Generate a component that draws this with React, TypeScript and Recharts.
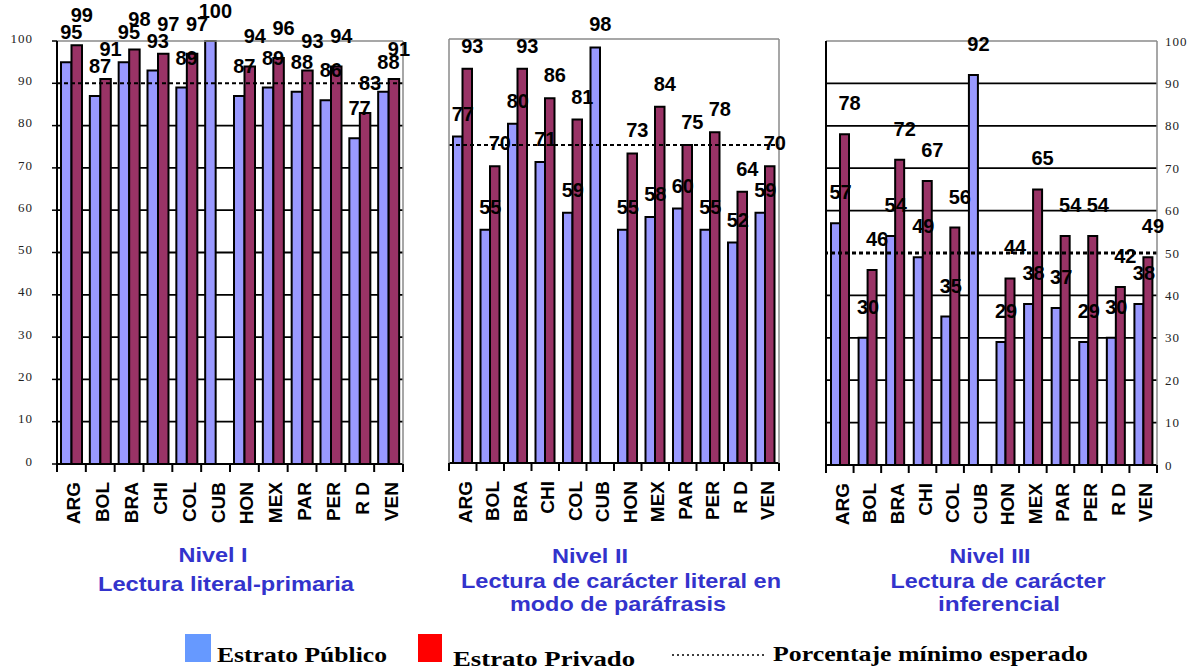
import React from "react";
import {
  Bar,
  BarChart,
  CartesianGrid,
  LabelList,
  ReferenceLine,
  XAxis,
  YAxis
} from "recharts";

const paises = ["ARG", "BOL", "BRA", "CHI", "COL", "CUB", "HON", "MEX", "PAR", "PER", "R D", "VEN"];

const nivel1Publico = [95, 87, 95, 93, 89, 100, 87, 89, 88, 86, 77, 88];
const nivel1Privado = [99, 91, 98, 97, 97, null, 94, 96, 93, 94, 83, 91];

const nivel2Publico = [77, 55, 80, 71, 59, 98, 55, 58, 60, 55, 52, 59];
const nivel2Privado = [93, 70, 93, 86, 81, null, 73, 84, 75, 78, 64, 70];

const nivel3Publico = [57, 30, 54, 49, 35, 92, 29, 38, 37, 29, 30, 38];
const nivel3Privado = [78, 46, 72, 67, 56, null, 44, 65, 54, 54, 42, 49];

const minimoNivel1 = 90;
const minimoNivel2 = 75;
const minimoNivel3 = 50;

const yTicks = [0, 10, 20, 30, 40, 50, 60, 70, 80, 90, 100];

const ARIAL = "Arial, 'Liberation Sans', sans-serif";
const TIMES = "'Times New Roman', 'Liberation Serif', serif";
const GREY = "#8a8a8a";

const toRows = (pub: (number | null)[], priv: (number | null)[]) =>
  paises.map((pais, i) => ({ pais, publico: pub[i], privado: priv[i] }));

const gridValues = (minimo: number) => yTicks.filter((v) => v > 0 && v < 100 && v !== minimo);

function PaisTick(props: any) {
  const { x, y, payload } = props;
  const half = payload.offset ?? 14;
  const last = payload.value === paises[paises.length - 1];
  return (
    <g>
      <line x1={x - half} x2={x - half} y1={y} y2={y + 8} stroke="#000" strokeWidth={2} />
      {last && <line x1={x + half} x2={x + half} y1={y} y2={y + 8} stroke="#000" strokeWidth={2} />}
      <text
        x={x + 9}
        y={y + 18}
        transform={`rotate(-90, ${x + 9}, ${y + 18})`}
        textAnchor="end"
        fontFamily={ARIAL}
        fontWeight="bold"
        fontSize={19}
        fill="#000"
      >
        {payload.value}
      </text>
    </g>
  );
}

const makeLabel = (lift: number) => (props: any) => {
  const { x, y, width, value } = props;
  if (value == null) return null;
  return (
    <text
      x={Number(x) + Number(width) / 2 + 5}
      y={Number(y) - lift}
      textAnchor="middle"
      fontFamily={ARIAL}
      fontWeight="bold"
      fontSize={20}
      fill="#000"
    >
      {value}
    </text>
  );
};

const tickFont = { fontFamily: TIMES, fontSize: 13, fill: "#222", letterSpacing: 1 };

type PanelProps = {
  left: number;
  width: number;
  margin: { top: number; right: number; bottom: number; left: number };
  publico: (number | null)[];
  privado: (number | null)[];
  minimo: number;
  barSize: number;
  lift: number;
  mode: "left" | "none" | "right";
  refWidth: number;
};

function Panel({ left, width, margin, publico, privado, minimo, barSize, lift, mode, refWidth }: PanelProps) {
  const data = toRows(publico, privado);
  return (
    <div style={{ position: "absolute", left, top: 0, width, height: 540 }}>
      <BarChart width={width} height={540} data={data} margin={margin} barGap={0} barSize={barSize}>
        <CartesianGrid vertical={false} horizontalValues={gridValues(minimo)} stroke="#000" strokeWidth={1.8} />
        <XAxis
          dataKey="pais"
          height={70}
          interval={0}
          tickSize={0}
          tickMargin={0}
          tickLine={false}
          tick={<PaisTick />}
          axisLine={{ stroke: "#000", strokeWidth: 2 }}
        />
        <XAxis
          xAxisId="top"
          dataKey="pais"
          orientation="top"
          height={1}
          tick={false}
          tickLine={false}
          axisLine={{ stroke: GREY, strokeWidth: 1.5 }}
        />
        {mode === "left" && (
          <YAxis
            domain={[0, 100]}
            ticks={yTicks}
            width={40}
            tickSize={5}
            tickMargin={19}
            tick={{ ...tickFont, dy: -3 }}
            tickLine={{ stroke: "#000", strokeWidth: 1.5 }}
            axisLine={{ stroke: "#000", strokeWidth: 2 }}
          />
        )}
        {mode === "none" && (
          <YAxis
            domain={[0, 100]}
            ticks={yTicks}
            width={1}
            tick={false}
            tickLine={false}
            axisLine={{ stroke: GREY, strokeWidth: 1.5 }}
          />
        )}
        {mode === "right" && (
          <YAxis
            orientation="right"
            domain={[0, 100]}
            ticks={yTicks}
            width={35}
            tickSize={0}
            tickMargin={8}
            tick={tickFont}
            tickLine={false}
            axisLine={{ stroke: GREY, strokeWidth: 1.5 }}
          />
        )}
        {mode === "right" ? (
          <YAxis
            yAxisId="extra"
            domain={[0, 100]}
            ticks={yTicks}
            width={1}
            tickSize={4}
            tickMargin={0}
            tickFormatter={() => ""}
            tickLine={{ stroke: "#000", strokeWidth: 1.5 }}
            axisLine={{ stroke: "#000", strokeWidth: 2 }}
          />
        ) : (
          <YAxis
            yAxisId="extra"
            orientation="right"
            domain={[0, 100]}
            width={1}
            tick={false}
            tickLine={false}
            axisLine={{ stroke: GREY, strokeWidth: 1.5 }}
          />
        )}
        <Bar dataKey="publico" fill="#9999ff" stroke="#000" strokeWidth={2} isAnimationActive={false}>
          <LabelList dataKey="publico" content={makeLabel(lift)} />
        </Bar>
        <Bar dataKey="privado" fill="#993366" stroke="#000" strokeWidth={2} isAnimationActive={false}>
          <LabelList dataKey="privado" content={makeLabel(lift)} />
        </Bar>
        <ReferenceLine y={minimo} stroke="#000" strokeWidth={refWidth} strokeDasharray="4 3" />
      </BarChart>
    </div>
  );
}

function Caption({ x, y, len, children }: { x: number; y: number; len: number; children: string }) {
  return (
    <text
      x={x}
      y={y}
      textAnchor="middle"
      textLength={len}
      lengthAdjust="spacingAndGlyphs"
      fontFamily={ARIAL}
      fontWeight="bold"
      fontSize={21}
      fill="#3333cc"
    >
      {children}
    </text>
  );
}

function LegendText({ x, y, len, children }: { x: number; y: number; len: number; children: string }) {
  return (
    <text
      x={x}
      y={y}
      textLength={len}
      lengthAdjust="spacingAndGlyphs"
      fontFamily={TIMES}
      fontWeight="bold"
      fontSize={22}
      fill="#000"
    >
      {children}
    </text>
  );
}

export default function App() {
  return (
    <div style={{ position: "absolute", left: 0, top: 0, width: 1192, height: 670, background: "#fff", overflow: "hidden" }}>
      <Panel
        left={0}
        width={420}
        margin={{ top: 40, right: 16, bottom: 6, left: 17 }}
        publico={nivel1Publico}
        privado={nivel1Privado}
        minimo={minimoNivel1}
        barSize={10.5}
        lift={23}
        mode="left"
        refWidth={2}
      />
      <Panel
        left={420}
        width={380}
        margin={{ top: 38, right: 20, bottom: 7, left: 28 }}
        publico={nivel2Publico}
        privado={nivel2Privado}
        minimo={minimoNivel2}
        barSize={9.5}
        lift={16}
        mode="none"
        refWidth={2}
      />
      <Panel
        left={800}
        width={392}
        margin={{ top: 40, right: 0, bottom: 5, left: 25 }}
        publico={nivel3Publico}
        privado={nivel3Privado}
        minimo={minimoNivel3}
        barSize={9}
        lift={24}
        mode="right"
        refWidth={3}
      />
      <svg width={1192} height={670} style={{ position: "absolute", left: 0, top: 0, pointerEvents: "none" }}>
        <Caption x={213} y={562} len={69}>Nivel I</Caption>
        <Caption x={226} y={591} len={256}>Lectura literal-primaria</Caption>
        <Caption x={590} y={563} len={76}>Nivel II</Caption>
        <Caption x={621} y={588} len={320}>Lectura de carácter literal en</Caption>
        <Caption x={618} y={611} len={216}>modo de paráfrasis</Caption>
        <Caption x={990} y={563} len={81}>Nivel III</Caption>
        <Caption x={998} y={588} len={215}>Lectura de carácter</Caption>
        <Caption x={999} y={611} len={122}>inferencial</Caption>

        <rect x={185} y={634} width={26} height={28} fill="#6699ff" />
        <LegendText x={217} y={662} len={170}>Estrato Público</LegendText>
        <rect x={418} y={634} width={24} height={28} fill="#ff0000" />
        <LegendText x={453} y={666} len={182}>Estrato Privado</LegendText>
        <line x1={672} x2={765} y1={655} y2={655} stroke="#000" strokeWidth={1.5} strokeDasharray="2 3" />
        <LegendText x={773} y={661} len={315}>Porcentaje mínimo esperado</LegendText>
      </svg>
    </div>
  );
}
